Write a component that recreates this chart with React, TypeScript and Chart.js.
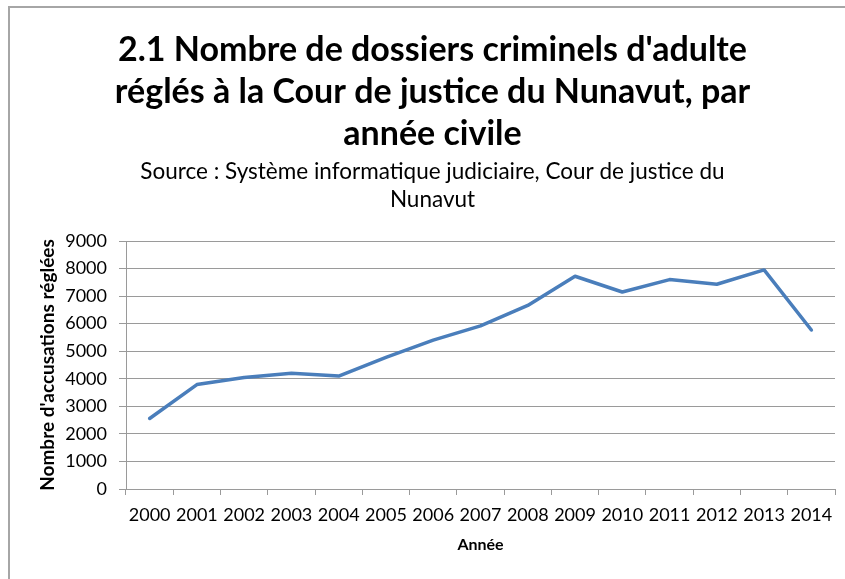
import React, { useEffect, useRef } from "react";
import { Chart, registerables } from "chart.js";

Chart.register(...registerables);

const years = ["2000","2001","2002","2003","2004","2005","2006","2007","2008","2009","2010","2011","2012","2013","2014"];
const settledCharges = [2560, 3790, 4050, 4200, 4100, 4780, 5400, 5920, 6660, 7720, 7150, 7600, 7430, 7950, 5770];
const titleLines = ["2.1 Nombre de dossiers criminels d'adulte", "réglés à la Cour de justice du Nunavut, par", "année civile"];
const subtitleLines = ["Source : Système informatique judiciaire, Cour de justice du", "Nunavut"];
const yAxisTitle = "Nombre d'accusations réglées";
const xAxisTitle = "Année";
const yMin = 0;
const yMax = 9000;
const yStep = 1000;

const FONT = "Lato, 'Open Sans', sans-serif";
const GRID = "#9a9a9a";

export default function App() {
  const ref = useRef<HTMLCanvasElement | null>(null);
  useEffect(() => {
    if (!ref.current) return;
    const chart = new Chart(ref.current, {
      type: "line",
      data: {
        labels: years,
        datasets: [
          {
            data: settledCharges,
            borderColor: "#4A7EBB",
            borderWidth: 3.5,
            pointRadius: 0,
            pointHoverRadius: 0,
            borderCapStyle: "round",
            borderJoinStyle: "round",
            tension: 0,
            fill: false,
          },
        ],
      },
      options: {
        responsive: false,
        animation: false,
        devicePixelRatio: 1,
        layout: { padding: { left: 30, right: 10, top: 0, bottom: 0 } },
        plugins: {
          legend: { display: false },
          tooltip: { enabled: false },
          title: {
            display: true,
            text: titleLines,
            color: "#000",
            font: { family: FONT, size: 34, weight: "bold", lineHeight: 42 / 34 },
            padding: { top: 29, bottom: 0 },
          },
          subtitle: {
            display: true,
            text: subtitleLines,
            color: "#000",
            font: { family: FONT, size: 22.5, weight: "normal", lineHeight: 28 / 22.5 },
            padding: { top: 3, bottom: 27 },
          },
        },
        scales: {
          x: {
            offset: true,
            grid: {
              display: true,
              drawOnChartArea: false,
              drawTicks: true,
              tickLength: 6,
              color: GRID,
              offset: true,
            },
            border: { display: true, color: GRID, width: 1 },
            ticks: {
              color: "#000",
              font: { family: FONT, size: 18 },
              padding: 9,
              maxRotation: 0,
              autoSkip: false,
            },
            title: {
              display: true,
              text: xAxisTitle,
              color: "#000",
              font: { family: FONT, size: 16, weight: "bold", lineHeight: 1.2 },
              padding: { top: 0, bottom: 24.4 },
            },
            afterFit: (scale: any) => {
              scale.height = 90;
            },
          },
          y: {
            min: yMin,
            max: yMax,
            grid: {
              color: GRID,
              lineWidth: 1,
              drawTicks: true,
              tickLength: 7,
            },
            border: { display: true, color: GRID, width: 1 },
            ticks: {
              stepSize: yStep,
              color: "#000",
              font: { family: FONT, size: 18 },
              padding: 12,
              callback: (v: any) => String(v),
            },
            title: {
              display: true,
              text: yAxisTitle,
              color: "#000",
              font: { family: FONT, size: 19, weight: "bold", lineHeight: 1.2 },
              padding: { top: 6.6, bottom: 0 },
            },
            afterFit: (scale: any) => {
              scale.width = 96;
            },
          },
        },
      },
    });
    return () => chart.destroy();
  }, []);

  return (
    <div style={{ position: "fixed", left: 0, top: 0, width: 845, height: 579, background: "#fff", overflow: "hidden" }}>
      <div
        style={{
          position: "absolute",
          left: 8,
          top: 6,
          width: 900,
          height: 700,
          border: "2px solid #a6a6a6",
          boxSizing: "border-box",
        }}
      />
      <canvas
        ref={ref}
        width={845}
        height={579}
        style={{ position: "absolute", left: 0, top: 0, width: 845, height: 579 }}
      />
    </div>
  );
}
